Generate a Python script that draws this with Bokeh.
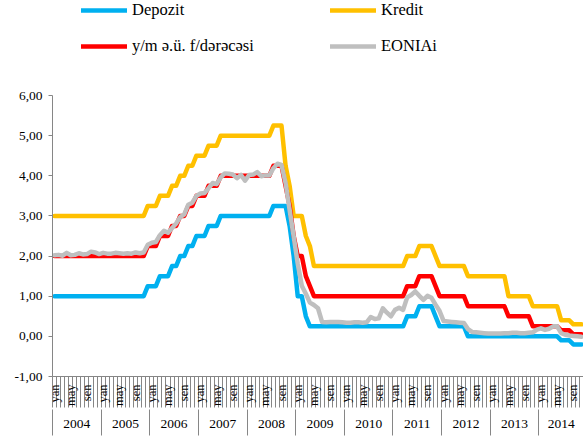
import math
from bokeh.plotting import figure
from bokeh.models import LinearAxis, FixedTicker, Range1d, Legend, LegendItem
from bokeh.embed import file_html
from bokeh.resources import INLINE

# ---------------- data (monthly, Jan 2004 - Nov 2014) ----------------
years = ["2004", "2005", "2006", "2007", "2008", "2009",
         "2010", "2011", "2012", "2013", "2014"]
month_names = {0: "yan", 4: "may", 8: "sen"}   # labelled months of each year

depozit = [
    1.00, 1.00, 1.00, 1.00, 1.00, 1.00, 1.00, 1.00, 1.00, 1.00, 1.00, 1.00,
    1.00, 1.00, 1.00, 1.00, 1.00, 1.00, 1.00, 1.00, 1.00, 1.00, 1.00, 1.25,
    1.25, 1.25, 1.50, 1.50, 1.50, 1.75, 1.75, 2.00, 2.00, 2.25, 2.25, 2.50,
    2.50, 2.50, 2.75, 2.75, 2.75, 3.00, 3.00, 3.00, 3.00, 3.00, 3.00, 3.00,
    3.00, 3.00, 3.00, 3.00, 3.00, 3.00, 3.25, 3.25, 3.25, 3.25, 2.75, 2.00,
    1.00, 1.00, 0.50, 0.25, 0.25, 0.25, 0.25, 0.25, 0.25, 0.25, 0.25, 0.25,
    0.25, 0.25, 0.25, 0.25, 0.25, 0.25, 0.25, 0.25, 0.25, 0.25, 0.25, 0.25,
    0.25, 0.25, 0.25, 0.50, 0.50, 0.50, 0.75, 0.75, 0.75, 0.75, 0.50, 0.25,
    0.25, 0.25, 0.25, 0.25, 0.25, 0.25, 0.00, 0.00, 0.00, 0.00, 0.00, 0.00,
    0.00, 0.00, 0.00, 0.00, 0.00, 0.00, 0.00, 0.00, 0.00, 0.00, 0.00, 0.00,
    0.00, 0.00, 0.00, 0.00, 0.00, -0.10, -0.10, -0.10, -0.20, -0.20, -0.20,
]
kredit = [
    3.00, 3.00, 3.00, 3.00, 3.00, 3.00, 3.00, 3.00, 3.00, 3.00, 3.00, 3.00,
    3.00, 3.00, 3.00, 3.00, 3.00, 3.00, 3.00, 3.00, 3.00, 3.00, 3.00, 3.25,
    3.25, 3.25, 3.50, 3.50, 3.50, 3.75, 3.75, 4.00, 4.00, 4.25, 4.25, 4.50,
    4.50, 4.50, 4.75, 4.75, 4.75, 5.00, 5.00, 5.00, 5.00, 5.00, 5.00, 5.00,
    5.00, 5.00, 5.00, 5.00, 5.00, 5.00, 5.25, 5.25, 5.25, 4.25, 3.75, 3.00,
    3.00, 3.00, 2.50, 2.25, 1.75, 1.75, 1.75, 1.75, 1.75, 1.75, 1.75, 1.75,
    1.75, 1.75, 1.75, 1.75, 1.75, 1.75, 1.75, 1.75, 1.75, 1.75, 1.75, 1.75,
    1.75, 1.75, 1.75, 2.00, 2.00, 2.00, 2.25, 2.25, 2.25, 2.25, 2.00, 1.75,
    1.75, 1.75, 1.75, 1.75, 1.75, 1.75, 1.50, 1.50, 1.50, 1.50, 1.50, 1.50,
    1.50, 1.50, 1.50, 1.50, 1.00, 1.00, 1.00, 1.00, 1.00, 1.00, 0.75, 0.75,
    0.75, 0.75, 0.75, 0.75, 0.75, 0.40, 0.40, 0.40, 0.30, 0.30, 0.30,
]
refi = [
    2.00, 2.00, 2.00, 2.00, 2.00, 2.00, 2.00, 2.00, 2.00, 2.00, 2.00, 2.00,
    2.00, 2.00, 2.00, 2.00, 2.00, 2.00, 2.00, 2.00, 2.00, 2.00, 2.00, 2.25,
    2.25, 2.25, 2.50, 2.50, 2.50, 2.75, 2.75, 3.00, 3.00, 3.25, 3.25, 3.50,
    3.50, 3.50, 3.75, 3.75, 3.75, 4.00, 4.00, 4.00, 4.00, 4.00, 4.00, 4.00,
    4.00, 4.00, 4.00, 4.00, 4.00, 4.00, 4.25, 4.25, 4.25, 3.75, 3.25, 2.50,
    2.00, 2.00, 1.50, 1.25, 1.00, 1.00, 1.00, 1.00, 1.00, 1.00, 1.00, 1.00,
    1.00, 1.00, 1.00, 1.00, 1.00, 1.00, 1.00, 1.00, 1.00, 1.00, 1.00, 1.00,
    1.00, 1.00, 1.00, 1.25, 1.25, 1.25, 1.50, 1.50, 1.50, 1.50, 1.25, 1.00,
    1.00, 1.00, 1.00, 1.00, 1.00, 1.00, 0.75, 0.75, 0.75, 0.75, 0.75, 0.75,
    0.75, 0.75, 0.75, 0.75, 0.50, 0.50, 0.50, 0.50, 0.50, 0.50, 0.25, 0.25,
    0.25, 0.25, 0.25, 0.25, 0.25, 0.15, 0.15, 0.15, 0.05, 0.05, 0.05,
]
eonia = [
    2.02, 2.03, 2.01, 2.08, 2.02, 2.03, 2.07, 2.04, 2.05, 2.11, 2.09, 2.05,
    2.08, 2.06, 2.06, 2.08, 2.07, 2.06, 2.07, 2.06, 2.09, 2.07, 2.09, 2.28,
    2.33, 2.35, 2.52, 2.63, 2.58, 2.70, 2.81, 2.97, 3.04, 3.28, 3.33, 3.50,
    3.56, 3.57, 3.69, 3.82, 3.79, 3.96, 4.06, 4.05, 4.03, 3.94, 4.02, 3.88,
    4.02, 4.03, 4.09, 3.99, 4.01, 4.01, 4.19, 4.30, 4.27, 3.82, 3.15, 2.49,
    1.81, 1.26, 1.06, 0.84, 0.78, 0.70, 0.36, 0.35, 0.36, 0.36, 0.36, 0.35,
    0.34, 0.34, 0.35, 0.35, 0.34, 0.35, 0.48, 0.43, 0.45, 0.70, 0.59, 0.50,
    0.66, 0.71, 0.66, 0.97, 1.03, 1.12, 1.01, 0.91, 1.01, 0.96, 0.79, 0.63,
    0.38, 0.37, 0.36, 0.35, 0.34, 0.33, 0.18, 0.11, 0.10, 0.09, 0.08, 0.07,
    0.07, 0.07, 0.07, 0.08, 0.08, 0.09, 0.09, 0.08, 0.08, 0.09, 0.10, 0.17,
    0.20, 0.16, 0.19, 0.25, 0.25, 0.08, 0.04, 0.02, 0.01, 0.00, -0.01,
]
y_ticks = [-1, 0, 1, 2, 3, 4, 5, 6]

# ---------------- figure ----------------
n = len(depozit)
x = [i + 0.5 for i in range(n)]
AXIS_GREY = "#868686"
FONT = "Liberation Serif"

# the frame reaches the top of the canvas so the legend can sit above the
# y-axis (the axis itself is bounded to -1..6)
H, BOTTOM, TOP_GAP = 436, 60, 95
plot_h = H - BOTTOM
y_top = 6 + 7 * TOP_GAP / (plot_h - TOP_GAP)

p = figure(width=583, height=H, output_backend="svg", toolbar_location=None,
           x_range=Range1d(0, n), y_range=Range1d(-1, y_top),
           x_axis_type=None, y_axis_type=None,
           min_border_left=52, min_border_right=0,
           min_border_top=0, min_border_bottom=BOTTOM)
p.outline_line_color = None
p.background_fill_color = "white"
p.border_fill_color = "white"

# y axis
yax = LinearAxis(
    ticker=FixedTicker(ticks=y_ticks, minor_ticks=[]), bounds=(-1, 6),
    major_label_overrides={t: f"{t:.2f}".replace(".", ",") for t in y_ticks},
    axis_line_color=AXIS_GREY, major_tick_line_color=AXIS_GREY,
    major_tick_out=4, major_tick_in=0, minor_tick_line_color=None,
    major_label_standoff=6, major_label_text_font=FONT,
    major_label_text_font_size="13.5px", major_label_text_color="#000000")
p.add_layout(yax, "left")

# month axis (labels sit between the long month-boundary ticks)
m_ticks = [i + 0.5 for i in range(n) if i % 12 in month_names]
m_over = {i + 0.5: month_names[i % 12] for i in range(n) if i % 12 in month_names}
m_bounds = list(range(n + 1))
max_ = LinearAxis(
    ticker=FixedTicker(ticks=m_ticks, minor_ticks=m_bounds),
    major_label_overrides=m_over, major_label_orientation=math.pi / 2,
    axis_line_color=AXIS_GREY, major_tick_line_color=None,
    major_tick_out=0, major_tick_in=0,
    minor_tick_line_color=AXIS_GREY, minor_tick_out=31, minor_tick_in=0,
    major_label_standoff=-23, major_label_text_font=FONT,
    major_label_text_font_size="12.5px", major_label_text_color="#000000")
p.add_layout(max_, "below")

# year axis
y_starts = [12 * k for k in range(len(years))]
y_ends = [min(12 * (k + 1), n) for k in range(len(years))]
y_centers = [(s + e) / 2 for s, e in zip(y_starts, y_ends)]
yr = LinearAxis(
    ticker=FixedTicker(ticks=y_centers, minor_ticks=y_starts + [n]),
    major_label_overrides=dict(zip(y_centers, years)),
    axis_line_color=None, major_tick_line_color=None,
    major_tick_out=0, major_tick_in=0,
    minor_tick_line_color=AXIS_GREY, minor_tick_out=26, minor_tick_in=0,
    major_label_standoff=-16, major_label_text_font=FONT,
    major_label_text_font_size="13.5px", major_label_text_color="#000000")
p.add_layout(yr, "below")

# lines
lw = 4.5
r_dep = p.line(x, depozit, line_color="#00B0F0", line_width=lw, line_join="round", line_cap="round")
r_kre = p.line(x, kredit, line_color="#FFC000", line_width=lw, line_join="round", line_cap="round")
r_ref = p.line(x, refi, line_color="#FF0000", line_width=lw, line_join="round", line_cap="round")
r_eon = p.line(x, eonia, line_color="#BFBFBF", line_width=lw, line_join="round", line_cap="round")

legend = Legend(
    items=[LegendItem(label="Depozit", renderers=[r_dep]),
           LegendItem(label="Kredit", renderers=[r_kre]),
           LegendItem(label="y/m ə.ü. f/dərəcəsi", renderers=[r_ref]),
           LegendItem(label="EONIAi", renderers=[r_eon])],
    orientation="horizontal", ncols=2, location=(29, plot_h - 56),
    padding=0, margin=0, spacing=16, label_width=182, label_height=20,
    glyph_height=20, glyph_width=46, label_standoff=5,
    border_line_color=None, background_fill_alpha=0,
    label_text_font=FONT, label_text_font_size="16.5px",
    label_text_color="#000000")
p.add_layout(legend)

open("out.html", "w").write(file_html(p, INLINE))
